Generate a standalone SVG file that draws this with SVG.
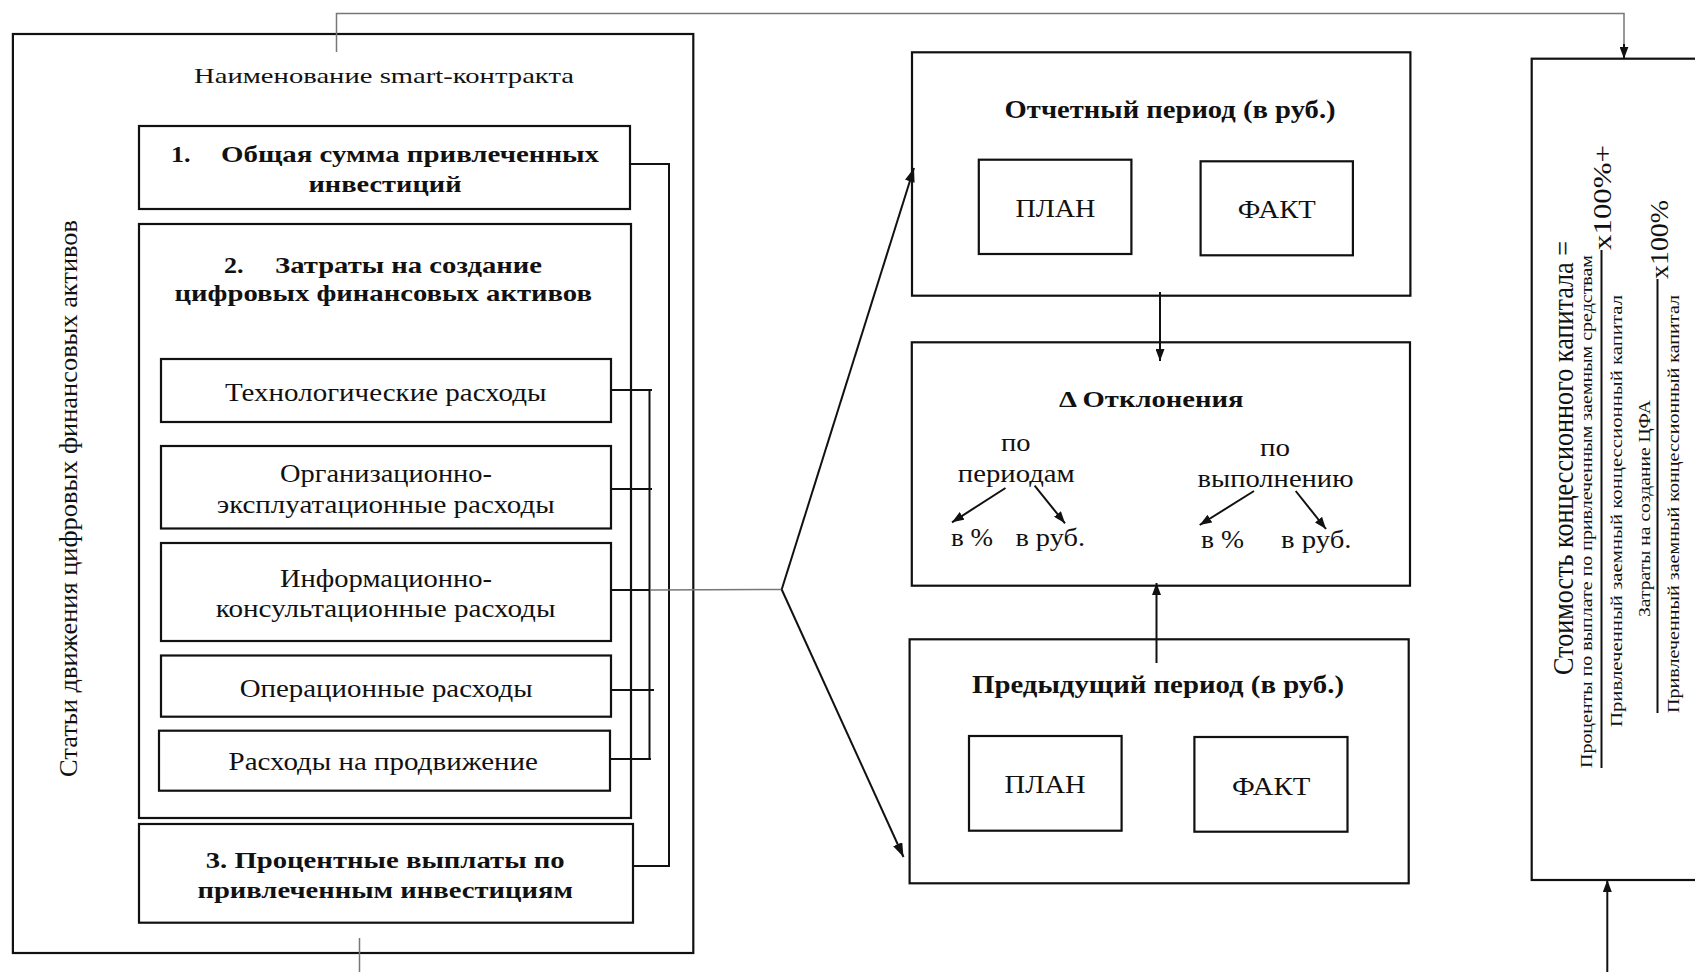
<svg xmlns="http://www.w3.org/2000/svg" width="1695" height="972" viewBox="0 0 1695 972">
  <style>
    .box { fill: none; stroke: #111; stroke-width: 2.2; }
    .t { font-family: "Liberation Serif", "Times New Roman", serif; fill: #111; }
    .b { font-weight: bold; }
    .ln { stroke: #111; stroke-width: 2; fill: none; }
    .thin { stroke: #777; stroke-width: 1.5; fill: none; }
  </style>
  <defs>
    <marker id="ah" viewBox="0 0 14 10" refX="14" refY="5" markerWidth="14" markerHeight="10" orient="auto" markerUnits="userSpaceOnUse">
      <path d="M0,0 L14,5 L0,10 z" fill="#111"/>
    </marker>
    <marker id="ahs" viewBox="0 0 12 9" refX="12" refY="4.5" markerWidth="12" markerHeight="9" orient="auto" markerUnits="userSpaceOnUse">
      <path d="M0,0 L12,4.5 L0,9 z" fill="#111"/>
    </marker>
  </defs>
  <rect width="1695" height="972" fill="#fff"/>

  <!-- Left panel: smart-contract cash-flow items -->
  <g id="smart-contract">
    <rect class="box" x="12.9" y="34" width="680.4" height="919"/>
    <text class="t" x="194" y="83" font-size="22" textLength="380" lengthAdjust="spacingAndGlyphs">Наименование smart-контракта</text>
    <text class="t" font-size="26" transform="translate(77,777) rotate(-90)" textLength="557" lengthAdjust="spacingAndGlyphs">Статьи движения цифровых финансовых активов</text>
  </g>

  <g id="item-1">
    <rect class="box" x="139" y="126" width="491" height="83"/>
    <text class="t b" x="171" y="162" font-size="24" textLength="19.5" lengthAdjust="spacingAndGlyphs">1.</text>
    <text class="t b" x="221" y="162" font-size="24" textLength="378" lengthAdjust="spacingAndGlyphs">Общая сумма привлеченных</text>
    <text class="t b" x="308.5" y="192" font-size="24" textLength="153" lengthAdjust="spacingAndGlyphs">инвестиций</text>
  </g>

  <g id="item-2">
    <rect class="box" x="139" y="224" width="492" height="594"/>
    <text class="t b" x="224" y="273" font-size="24" textLength="19.5" lengthAdjust="spacingAndGlyphs">2.</text>
    <text class="t b" x="275" y="273" font-size="24" textLength="267" lengthAdjust="spacingAndGlyphs">Затраты на создание</text>
    <text class="t b" x="174.5" y="301" font-size="24" textLength="417.5" lengthAdjust="spacingAndGlyphs">цифровых финансовых активов</text>
  </g>

  <g id="cost-tech">
    <rect class="box" x="161" y="359" width="450" height="63"/>
    <text class="t" x="225" y="401" font-size="26" textLength="321.4" lengthAdjust="spacingAndGlyphs">Технологические расходы</text>
  </g>
  <g id="cost-org">
    <rect class="box" x="161" y="446" width="450" height="82.5"/>
    <text class="t" x="280" y="482" font-size="26" textLength="212" lengthAdjust="spacingAndGlyphs">Организационно-</text>
    <text class="t" x="216.7" y="513" font-size="26" textLength="338" lengthAdjust="spacingAndGlyphs">эксплуатационные расходы</text>
  </g>
  <g id="cost-info">
    <rect class="box" x="161" y="543" width="450" height="98"/>
    <text class="t" x="280" y="587" font-size="26" textLength="212" lengthAdjust="spacingAndGlyphs">Информационно-</text>
    <text class="t" x="215.8" y="617" font-size="26" textLength="339.7" lengthAdjust="spacingAndGlyphs">консультационные расходы</text>
  </g>
  <g id="cost-oper">
    <rect class="box" x="161" y="655.5" width="450" height="61.2"/>
    <text class="t" x="239.7" y="697" font-size="26" textLength="293" lengthAdjust="spacingAndGlyphs">Операционные расходы</text>
  </g>
  <g id="cost-promo">
    <rect class="box" x="159" y="730.7" width="451" height="60"/>
    <text class="t" x="228.6" y="770" font-size="26" textLength="309.4" lengthAdjust="spacingAndGlyphs">Расходы на продвижение</text>
  </g>

  <g id="item-3">
    <rect class="box" x="139" y="824" width="494" height="98.7"/>
    <text class="t b" x="205.7" y="868" font-size="24" textLength="359" lengthAdjust="spacingAndGlyphs">3. Процентные выплаты по</text>
    <text class="t b" x="197.4" y="898" font-size="24" textLength="375.6" lengthAdjust="spacingAndGlyphs">привлеченным инвестициям</text>
  </g>

  <!-- Middle column: reporting period, deviations, previous period -->
  <g id="reporting-period">
    <rect class="box" x="912" y="52.3" width="498.4" height="243.4"/>
    <text class="t b" x="1004.6" y="118" font-size="25" textLength="331" lengthAdjust="spacingAndGlyphs">Отчетный период (в руб.)</text>
    <rect class="box" x="978.8" y="159.7" width="152.6" height="94.3"/>
    <text class="t" x="1015.4" y="217" font-size="26" textLength="80" lengthAdjust="spacingAndGlyphs">ПЛАН</text>
    <rect class="box" x="1200.6" y="161.3" width="152.3" height="94"/>
    <text class="t" x="1237.7" y="218" font-size="26" textLength="78" lengthAdjust="spacingAndGlyphs">ФАКТ</text>
  </g>

  <g id="deviations">
    <rect class="box" x="911.8" y="342.3" width="498.2" height="243.4"/>
    <text class="t b" x="1059" y="407" font-size="24" textLength="184.5" lengthAdjust="spacingAndGlyphs">Δ Отклонения</text>
    <text class="t" x="1001" y="451" font-size="26" textLength="29.5" lengthAdjust="spacingAndGlyphs">по</text>
    <text class="t" x="957.8" y="482" font-size="26" textLength="117" lengthAdjust="spacingAndGlyphs">периодам</text>
    <text class="t" x="951" y="546" font-size="26" textLength="42" lengthAdjust="spacingAndGlyphs">в %</text>
    <text class="t" x="1015.4" y="546" font-size="26" textLength="69.6" lengthAdjust="spacingAndGlyphs">в руб.</text>
    <text class="t" x="1260" y="456" font-size="26" textLength="30" lengthAdjust="spacingAndGlyphs">по</text>
    <text class="t" x="1197.5" y="487" font-size="26" textLength="156" lengthAdjust="spacingAndGlyphs">выполнению</text>
    <text class="t" x="1201" y="548" font-size="26" textLength="43" lengthAdjust="spacingAndGlyphs">в %</text>
    <text class="t" x="1281" y="548" font-size="26" textLength="70.5" lengthAdjust="spacingAndGlyphs">в руб.</text>
    <line class="ln" x1="1005.5" y1="488" x2="952" y2="522.3" marker-end="url(#ahs)"/>
    <line class="ln" x1="1034.6" y1="485.7" x2="1065" y2="523.3" marker-end="url(#ahs)"/>
    <line class="ln" x1="1254" y1="491" x2="1199.7" y2="525" marker-end="url(#ahs)"/>
    <line class="ln" x1="1295.7" y1="491" x2="1326" y2="529" marker-end="url(#ahs)"/>
  </g>

  <g id="previous-period">
    <rect class="box" x="909.6" y="639.3" width="499.1" height="244"/>
    <text class="t b" x="972" y="693" font-size="25" textLength="372" lengthAdjust="spacingAndGlyphs">Предыдущий период (в руб.)</text>
    <rect class="box" x="969" y="736" width="152.6" height="94.7"/>
    <text class="t" x="1004.6" y="793" font-size="26" textLength="81" lengthAdjust="spacingAndGlyphs">ПЛАН</text>
    <rect class="box" x="1194.4" y="737" width="153.1" height="94.7"/>
    <text class="t" x="1231.9" y="795" font-size="26" textLength="78.5" lengthAdjust="spacingAndGlyphs">ФАКТ</text>
  </g>

  <!-- Right column: cost of concession capital formula -->
  <g id="capital-cost">
    <rect class="box" x="1531.7" y="58.7" width="180" height="821.3"/>
    <text class="t" font-size="30" transform="translate(1573,675) rotate(-90)" textLength="434" lengthAdjust="spacingAndGlyphs">Стоимость концессионного капитала =</text>
    <text class="t" font-size="17" transform="translate(1591.5,768) rotate(-90)" textLength="513" lengthAdjust="spacingAndGlyphs">Проценты по выплате по привлеченным заемным средствам</text>
    <line class="ln" x1="1601.5" y1="250" x2="1601.5" y2="768" stroke-width="1.6"/>
    <text class="t" font-size="26" transform="translate(1611,250) rotate(-90)" textLength="105" lengthAdjust="spacingAndGlyphs">x100%+</text>
    <text class="t" font-size="17" transform="translate(1622,727) rotate(-90)" textLength="432" lengthAdjust="spacingAndGlyphs">Привлеченный заемный концессионный капитал</text>
    <text class="t" font-size="17" transform="translate(1650,617) rotate(-90)" textLength="217" lengthAdjust="spacingAndGlyphs">Затраты на создание ЦФА</text>
    <line class="ln" x1="1657.5" y1="279" x2="1657.5" y2="713" stroke-width="1.6"/>
    <text class="t" font-size="26" transform="translate(1668,279) rotate(-90)" textLength="79" lengthAdjust="spacingAndGlyphs">x100%</text>
    <text class="t" font-size="17" transform="translate(1679,713) rotate(-90)" textLength="418" lengthAdjust="spacingAndGlyphs">Привлеченный заемный концессионный капитал</text>
  </g>

  <!-- Connectors -->
  <g id="connectors">
    <!-- item 1 to item 3 bracket -->
    <polyline class="ln" points="630,164 669,164 669,866 633,866"/>
    <!-- cost items bus -->
    <line class="ln" x1="649.5" y1="390" x2="649.5" y2="759"/>
    <line class="ln" x1="611" y1="390" x2="652" y2="390"/>
    <line class="ln" x1="611" y1="489" x2="652" y2="489"/>
    <line class="ln" x1="611" y1="590" x2="650" y2="590"/>
    <line class="ln" x1="611" y1="690" x2="654" y2="690"/>
    <line class="ln" x1="610" y1="759" x2="651" y2="759"/>
    <!-- bus to fan vertex -->
    <line class="thin" x1="650" y1="590" x2="781.7" y2="589.5"/>
    <!-- fan to both periods -->
    <line class="ln" x1="781.7" y1="589.5" x2="914" y2="168" marker-end="url(#ah)"/>
    <line class="ln" x1="781.7" y1="589.5" x2="903.5" y2="857" marker-end="url(#ah)"/>
    <!-- periods to deviations -->
    <line class="ln" x1="1160" y1="292" x2="1160" y2="361" marker-end="url(#ahs)"/>
    <line class="ln" x1="1156.5" y1="663" x2="1156.5" y2="583" marker-end="url(#ahs)"/>
    <!-- contract name to formula -->
    <polyline class="thin" points="336.5,52 336.5,13.5 1624,13.5 1624,47"/>
    <line class="ln" x1="1624" y1="44" x2="1624" y2="58.7" marker-end="url(#ahs)"/>
    <!-- bottom links -->
    <line class="thin" x1="359.5" y1="938" x2="359.5" y2="972"/>
    <line class="ln" x1="1607.3" y1="972" x2="1607.3" y2="880" marker-end="url(#ahs)"/>
  </g>
</svg>
